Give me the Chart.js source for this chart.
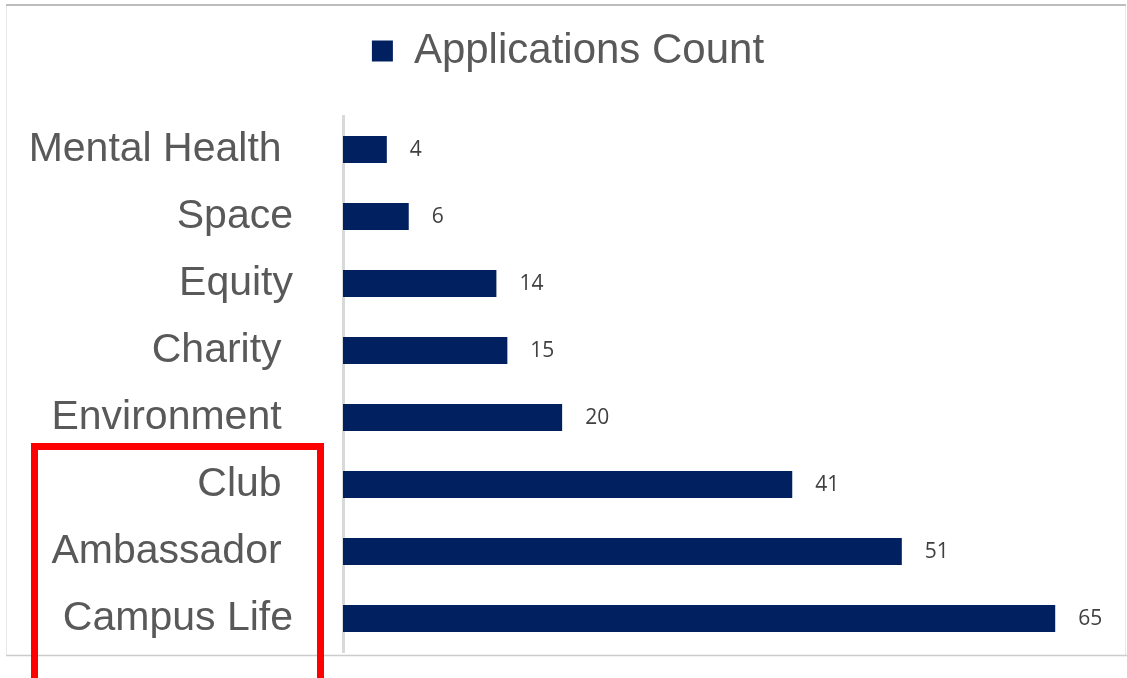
<!DOCTYPE html>
<html>
<head>
<meta charset="utf-8">
<script src="https://cdn.jsdelivr.net/npm/chart.js@4.4.1/dist/chart.umd.min.js"></script>
<style>
  html, body { margin: 0; padding: 0; background: #ffffff; }
  #wrap { width: 1127px; height: 678px; position: relative; }
</style>
</head>
<body>
<div id="wrap"><canvas id="chart"></canvas></div>
<script>
// categories top to bottom (trailing spaces kept as in the original labels)
const categories = ["Mental Health ", "Space", "Equity", "Charity ", "Environment ", "Club ", "Ambassador ", "Campus Life"];
const applicationCounts = [4, 6, 14, 15, 20, 41, 51, 65];
const seriesName = "Applications Count";

const barColor = "#002060";
const labelGray = "#595959";

// value labels at the end of each bar
const valueLabels = {
    id: "valueLabels",
    afterDatasetsDraw(chart) {
        const ctx = chart.ctx;
        const meta = chart.getDatasetMeta(0);
        ctx.save();
        ctx.font = "21px 'Open Sans'";
        ctx.fillStyle = "#404040";
        ctx.textAlign = "left";
        ctx.textBaseline = "middle";
        meta.data.forEach(function (bar, i) {
            ctx.fillText(String(applicationCounts[i]), bar.x + 23, bar.y + 1);
        });
        ctx.restore();
    }
};

// slide frame and the red highlight box drawn over the labels
const frame = {
    id: "frame",
    beforeDraw(chart) {
        const ctx = chart.ctx;
        ctx.save();
        ctx.strokeStyle = "#e8e8e8";
        ctx.lineWidth = 1;
        ctx.beginPath();
        ctx.moveTo(6.5, 5); ctx.lineTo(6.5, 655);
        ctx.moveTo(1125.5, 5); ctx.lineTo(1125.5, 655);
        ctx.stroke();
        ctx.strokeStyle = "#bdbdbd";
        ctx.lineWidth = 2;
        ctx.beginPath();
        ctx.moveTo(6, 5); ctx.lineTo(1126, 5);
        ctx.stroke();
        ctx.strokeStyle = "#cccccc";
        ctx.lineWidth = 1.5;
        ctx.beginPath();
        ctx.moveTo(6, 655.5); ctx.lineTo(1127, 655.5);
        ctx.stroke();
        ctx.restore();
    },
    afterDraw(chart) {
        const ctx = chart.ctx;
        ctx.save();
        ctx.strokeStyle = "#ff0000";
        ctx.lineWidth = 7;
        ctx.strokeRect(34.5, 446.5, 286, 260);
        ctx.restore();
    }
};

new Chart(document.getElementById("chart"), {
    type: "bar",
    data: {
        labels: categories,
        datasets: [{
            label: seriesName,
            data: applicationCounts,
            backgroundColor: barColor,
            borderWidth: 0,
            barPercentage: 0.403,
            categoryPercentage: 1.0,
        }],
    },
    options: {
        indexAxis: "y",
        responsive: true,
        maintainAspectRatio: false,
        animation: false,
        layout: {
            padding: { top: 20, left: 26, right: 17, bottom: 26 },
        },
        plugins: {
            legend: {
                display: true,
                position: "top",
                labels: {
                    boxWidth: 21,
                    boxHeight: 21,
                    padding: 10,
                    color: labelGray,
                    font: { family: "'Liberation Sans', Arial, sans-serif", size: 42 },
                },
            },
            tooltip: { enabled: false },
        },
        scales: {
            x: {
                position: "top",
                min: 0,
                max: 70,
                grid: { display: false },
                border: { display: false },
                ticks: { display: false },
                afterFit(scale) {
                    scale.height = 34;
                },
            },
            y: {
                grid: { display: false, drawTicks: false },
                border: { display: true, color: "#d9d9d9", width: 3 },
                ticks: {
                    color: labelGray,
                    padding: 50,
                    font: { family: "'Liberation Sans', Arial, sans-serif", size: 41 },
                },
                afterFit(scale) {
                    scale.width = 317;
                    scale.paddingTop = 0;
                    scale.paddingBottom = 0;
                },
            },
        },
    },
    plugins: [valueLabels, frame],
});
</script>
</body>
</html>
